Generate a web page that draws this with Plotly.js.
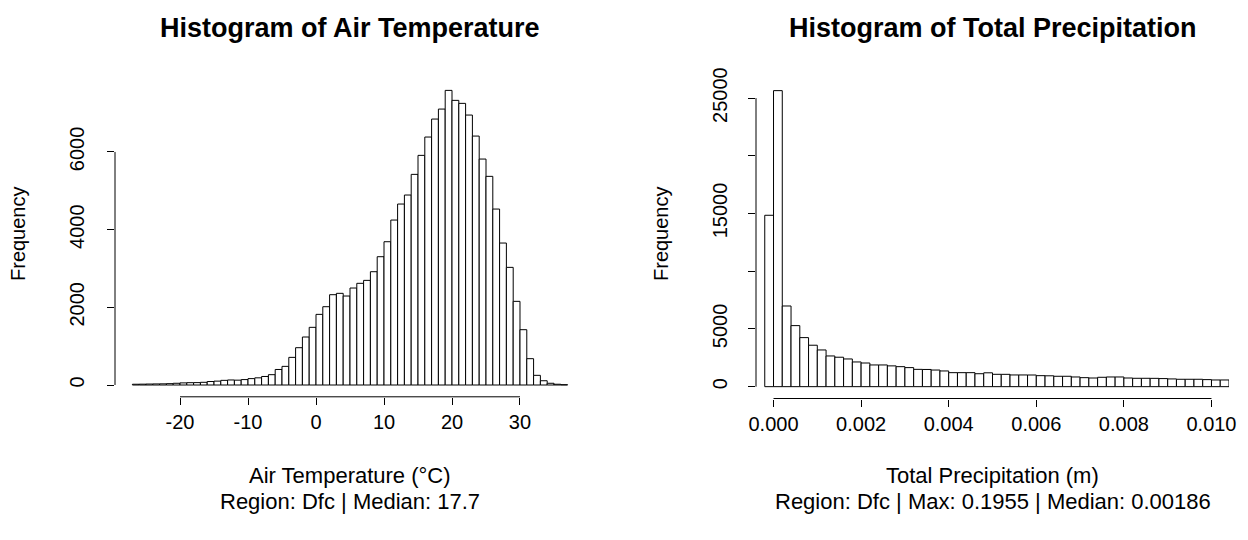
<!DOCTYPE html>
<html><head><meta charset="utf-8">
<script src="https://cdn.plot.ly/plotly-3.0.1.min.js"></script>
<style>html,body{margin:0;padding:0;background:#fff}#chart{width:1248px;height:540px}</style>
</head><body><div id="chart"></div>
<script>
// ---- Air temperature histogram (bin left edges, width 1 °C) ----
const tempBinStarts = [-27,-26,-25,-24,-23,-22,-21,-20,-19,-18,-17,-16,-15,-14,-13,-12,-11,-10,-9,-8,-7,-6,-5,-4,-3,-2,-1,0,1,2,3,4,5,6,7,8,9,10,11,12,13,14,15,16,17,18,19,20,21,22,23,24,25,26,27,28,29,30,31,32,33,34,35,36];
const tempCounts = [20,22,25,28,30,35,45,55,60,62,70,90,100,120,130,125,140,165,185,220,266,400,480,712,961,1236,1485,1819,2016,2325,2360,2291,2497,2618,2694,2917,3303,3689,4247,4659,4891,5423,5912,6384,6847,7104,7585,7328,7251,6950,6409,5817,5372,4530,3655,3029,2154,1424,678,249,110,45,20,8];
const tempBinWidth = 1;
const tempTickVals = [-20,-10,0,10,20,30];
const tempTickText = ['-20','-10','0','10','20','30'];
const tempYTickVals = [0,2000,4000,6000];
const tempYTickText = ['0','2000','4000','6000'];

// ---- Total precipitation histogram (bin left edges, width 0.0002 m) ----
const precipBinStarts = [-0.0002,0,0.0002,0.0004,0.0006,0.0008,0.0010,0.0012,0.0014,0.0016,0.0018,0.0020,0.0022,0.0024,0.0026,0.0028,0.0030,0.0032,0.0034,0.0036,0.0038,0.0040,0.0042,0.0044,0.0046,0.0048,0.0050,0.0052,0.0054,0.0056,0.0058,0.0060,0.0062,0.0064,0.0066,0.0068,0.0070,0.0072,0.0074,0.0076,0.0078,0.0080,0.0082,0.0084,0.0086,0.0088,0.0090,0.0092,0.0094,0.0096,0.0098,0.0100,0.0102];
const precipCounts = [14850,25650,6990,5290,4250,3590,3180,2660,2550,2400,2140,2050,1880,1880,1800,1733,1650,1500,1490,1440,1360,1213,1213,1213,1120,1200,1070,1068,1014,1014,1010,953,940,900,900,840,780,750,812,840,840,750,725,725,720,700,670,640,640,640,610,580,580];
const precipBinWidth = 0.0002;
const precipXlim = [0, 0.010];
const precipTickVals = [0,0.002,0.004,0.006,0.008,0.010];
const precipTickText = ['0.000','0.002','0.004','0.006','0.008','0.010'];
const precipYTickVals = [0,5000,10000,15000,20000,25000];
const precipYTickText = ['0','5000','','15000','','25000'];

// ---- Texts ----
const titles = ['Histogram of Air Temperature', 'Histogram of Total Precipitation'];
const xLabels = ['Air Temperature (°C)', 'Total Precipitation (m)'];
const subLabels = ['Region: Dfc | Median: 17.7', 'Region: Dfc | Max: 0.1955 | Median: 0.00186'];
const yLabel = 'Frequency';

const FONT = 'Liberation Sans, Arial, Helvetica, sans-serif';
const W = 1248, H = 540;
const TICK = 20, LAB = 22, TITLE = 27, YLAB = 20;

function expand(lo, hi) { const p = 0.04 * (hi - lo); return [lo - p, hi + p]; }

const tempXRange = expand(tempBinStarts[0], tempBinStarts[tempBinStarts.length - 1] + tempBinWidth);
const tempYRange = expand(0, Math.max(...tempCounts));
const precipXRange = expand(precipXlim[0], precipXlim[1]);
const precipYRange = expand(0, Math.max(...precipCounts));

const barStyle = { color: '#ffffff', line: { color: '#000000', width: 1 } };

const traces = [
  { type: 'bar', x: tempBinStarts, y: tempCounts, width: tempBinWidth, offset: 0,
    marker: barStyle, xaxis: 'x', yaxis: 'y', hoverinfo: 'skip', showlegend: false },
  { type: 'bar', x: precipBinStarts, y: precipCounts, width: precipBinWidth, offset: 0,
    marker: barStyle, xaxis: 'x2', yaxis: 'y2', hoverinfo: 'skip', showlegend: false }
];

function px2x(p) { return p / W; }
function py2y(p) { return (H - p) / H; }

function xax(domain, range, vals, text) {
  return { domain: domain, range: range, tickvals: vals, ticktext: text,
    showgrid: false, zeroline: false, showline: false, ticks: 'outside', ticklen: 7,
    tickwidth: 1, tickcolor: '#000', tickfont: { family: FONT, size: TICK, color: '#000' },
    ticklabelstandoff: 0, fixedrange: true };
}
function yax(domain, range, vals, text, anchor, standoff) {
  return { domain: domain, range: range, tickvals: vals, ticktext: text, anchor: anchor,
    showgrid: false, zeroline: false, showline: false, ticks: 'outside', ticklen: 7,
    tickwidth: 1, tickcolor: '#000', tickangle: -90,
    tickfont: { family: FONT, size: TICK, color: '#000' }, ticklabelstandoff: standoff, fixedrange: true };
}

const leftX = [px2x(115), px2x(585)];
const rightX = [px2x(756), px2x(1229)];

const layout = {
  width: W, height: H, margin: { l: 0, r: 0, t: 0, b: 0 },
  paper_bgcolor: '#fff', plot_bgcolor: '#fff', barmode: 'overlay',
  xaxis: Object.assign(xax(leftX, tempXRange, tempTickVals, tempTickText), { anchor: 'y' }),
  yaxis: yax([py2y(396.8), py2y(78.6)], tempYRange, tempYTickVals, tempYTickText, 'x', 15),
  xaxis2: Object.assign(xax(rightX, precipXRange, precipTickVals, precipTickText), { anchor: 'y2' }),
  yaxis2: yax([py2y(398.5), py2y(78.8)], precipYRange, precipYTickVals, precipYTickText, 'x2', 13),
  shapes: [
    { type: 'line', xref: 'x', yref: 'y domain', x0: tempTickVals[0], x1: tempTickVals[tempTickVals.length-1], y0: 0, y1: 0, line: { color: '#000', width: 1 } },
    { type: 'line', xref: 'x domain', yref: 'y', x0: 0, x1: 0, y0: tempYTickVals[0], y1: tempYTickVals[tempYTickVals.length-1], line: { color: '#000', width: 1 } },
    { type: 'line', xref: 'x2', yref: 'y2 domain', x0: precipTickVals[0], x1: precipTickVals[precipTickVals.length-1], y0: 0, y1: 0, line: { color: '#000', width: 1 } },
    { type: 'line', xref: 'x2 domain', yref: 'y2', x0: 0, x1: 0, y0: precipYTickVals[0], y1: precipYTickVals[precipYTickVals.length-1], line: { color: '#000', width: 1 } }
  ],
  annotations: []
};

const centers = [(leftX[0] + leftX[1]) / 2, (rightX[0] + rightX[1]) / 2];
const yLabelX = [px2x(18), px2x(661)];
for (let i = 0; i < 2; i++) {
  layout.annotations.push({ text: titles[i], xref: 'paper', yref: 'paper', x: centers[i], y: py2y(28),
    xanchor: 'center', yanchor: 'middle', showarrow: false,
    font: { family: FONT, size: TITLE, color: '#000', weight: 'bold' } });
  layout.annotations.push({ text: xLabels[i], xref: 'paper', yref: 'paper', x: centers[i], y: py2y(475),
    xanchor: 'center', yanchor: 'middle', showarrow: false, borderpad: 0, font: { family: FONT, size: LAB, color: '#000' } });
  layout.annotations.push({ text: subLabels[i], xref: 'paper', yref: 'paper', x: centers[i], y: py2y(501),
    xanchor: 'center', yanchor: 'middle', showarrow: false, borderpad: 0, font: { family: FONT, size: LAB, color: '#000' } });
  layout.annotations.push({ text: yLabel, xref: 'paper', yref: 'paper', x: yLabelX[i], y: py2y(234),
    xanchor: 'center', yanchor: 'middle', textangle: -90, showarrow: false, font: { family: FONT, size: YLAB, color: '#000' } });
}

Plotly.newPlot('chart', traces, layout, { staticPlot: true, displayModeBar: false });
</script>
</body></html>
